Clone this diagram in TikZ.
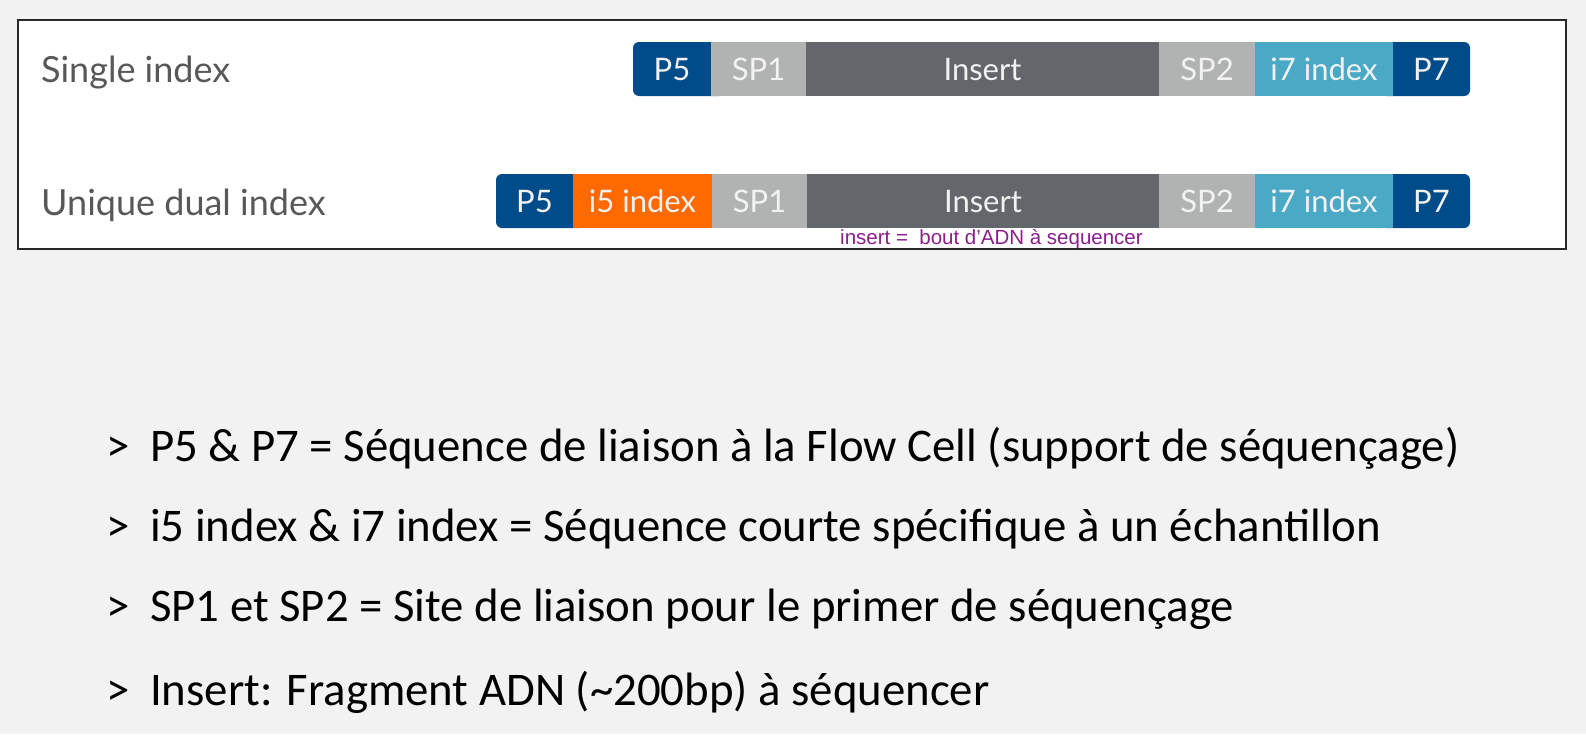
\documentclass[tikz,border=0pt]{standalone}
\usepackage{fontspec}
\setmainfont{Lato}
\newfontfamily\carl{Carlito}
\newfontfamily\helv{Liberation Sans}
\definecolor{bg}{RGB}{242,242,242}
\definecolor{boxline}{RGB}{40,40,40}
\definecolor{pcol}{RGB}{0,76,138}
\definecolor{spcol}{RGB}{177,179,179}
\definecolor{inscol}{RGB}{99,102,106}
\definecolor{isevcol}{RGB}{74,170,198}
\definecolor{ifivecol}{RGB}{255,106,0}
\definecolor{segtext}{RGB}{242,242,242}
\definecolor{labcol}{RGB}{88,88,88}
\definecolor{annot}{RGB}{140,30,140}
\begin{document}
\begin{tikzpicture}[x=1pt,y=-1pt,
  seg/.style={minimum height=54pt, inner sep=0pt, outer sep=0pt, anchor=west, text=segtext,
    font=\fontsize{31}{31}\selectfont, text height=22pt, text depth=0pt},
  rowlab/.style={anchor=base west, inner sep=0pt, text=labcol, font=\fontsize{36}{36}\selectfont},
  bullet/.style={anchor=base west, inner sep=0pt, text=black, font=\carl\fontsize{46.8}{46.8}\selectfont}]
\useasboundingbox (0,0) rectangle (1586,734);
\fill[bg] (0,0) rectangle (1586,734);
\draw[line width=1.5pt, draw=boxline, fill=white] (18,20) rectangle (1566,249);

% row labels
\node[rowlab] (lab1) at (41,82) {Single index};
\node[rowlab] (lab2) at (41,215) {Unique dual index};

% ---- row 1 ----
\fill[pcol, rounded corners=6pt] (633,42) rectangle (725,96);
\fill[pcol, rounded corners=6pt] (1380,42) rectangle (1470,96);
\node[seg, minimum width=78pt] (ap5) at (633,69) {P5};
\node[seg, fill=spcol, minimum width=95pt] (asp1) at (711,69) {SP1};
\node[seg, fill=inscol, minimum width=353pt] (ains) at (806,69) {Insert};
\node[seg, fill=spcol, minimum width=96pt] (asp2) at (1159,69) {SP2};
\node[seg, fill=isevcol, minimum width=138pt] (ai7) at (1255,69) {i7 index};
\node[seg, minimum width=77pt] (ap7) at (1393,69) {P7};

% ---- row 2 ----
\fill[pcol, rounded corners=6pt] (496,174) rectangle (585,228);
\fill[pcol, rounded corners=6pt] (1380,174) rectangle (1470,228);
\node[seg, minimum width=77pt] (bp5) at (496,201) {P5};
\node[seg, fill=ifivecol, minimum width=139pt] (bi5) at (573,201) {i5 index};
\node[seg, fill=spcol, minimum width=95pt] (bsp1) at (712,201) {SP1};
\node[seg, fill=inscol, minimum width=352pt] (bins) at (807,201) {Insert};
\node[seg, fill=spcol, minimum width=96pt] (bsp2) at (1159,201) {SP2};
\node[seg, fill=isevcol, minimum width=138pt] (bi7) at (1255,201) {i7 index};
\node[seg, minimum width=77pt] (bp7) at (1393,201) {P7};

% annotation
\node[anchor=base west, inner sep=0pt, text=annot, font=\helv\fontsize{20.5}{20.5}\selectfont] (note) at (840,244) {insert =\ \ bout d’ADN à sequencer};

% bullet lines
\node[bullet] (g1) at (106,461) {>};
\node[bullet] (t1) at (150,461) {P5 \& P7 = Séquence de liaison à la Flow Cell (support de séquençage)};
\node[bullet] (g2) at (106,541) {>};
\node[bullet] (t2) at (150,541) {i5 index \& i7 index = Séquence courte spécifique à un échantillon};
\node[bullet] (g3) at (106,621) {>};
\node[bullet] (t3) at (150,621) {SP1 et SP2 = Site de liaison pour le primer de séquençage};
\node[bullet] (g4) at (106,705) {>};
\node[bullet] (t4) at (150,705) {Insert: Fragment ADN (\char`\~200bp) à séquencer};
\end{tikzpicture}
\end{document}
